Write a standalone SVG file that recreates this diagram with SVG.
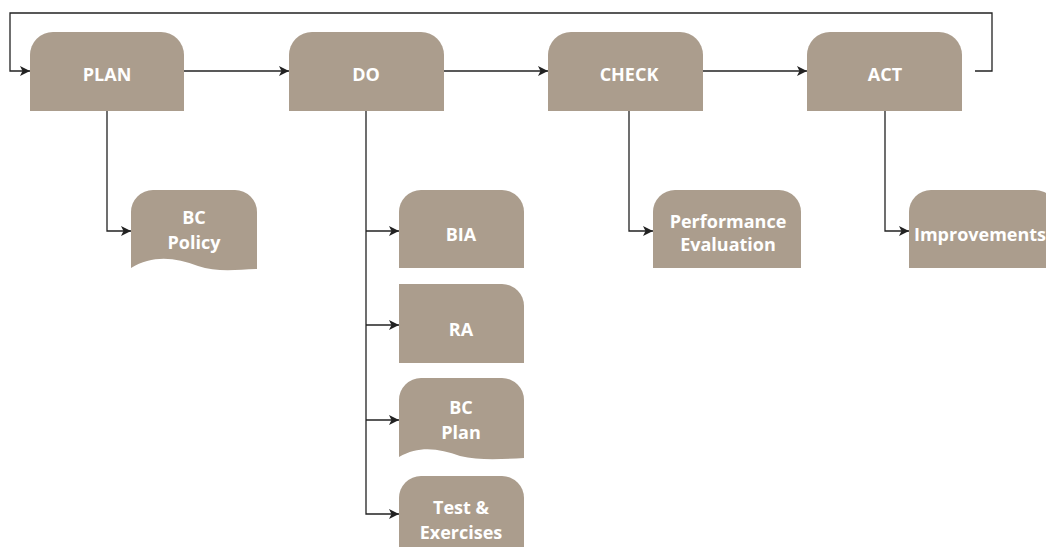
<svg xmlns="http://www.w3.org/2000/svg" width="1046" height="547" viewBox="0 0 1046 547">
  <defs>
    <marker id="arr" viewBox="0 0 10 10" refX="10" refY="5" markerWidth="10" markerHeight="10" markerUnits="userSpaceOnUse" orient="auto">
      <path d="M0,0 L10,5 L0,10 L2.5,5 Z" fill="#222"/>
    </marker>
    <style>
      .box { fill: #ab9d8d; }
      .lbl { fill: #ffffff; font-family: "Open Sans", "Liberation Sans", sans-serif; font-weight: 700; font-size: 18px; text-anchor: middle; }
      .con { fill: none; stroke: #222; stroke-width: 1.3; }
    </style>
  </defs>
  <rect width="1046" height="547" fill="#ffffff"/>

  <g id="connectors">
    <path class="con" d="M975,71 H992 V13 H10 V71 H30" marker-end="url(#arr)"/>
    <path class="con" d="M184,71 H289" marker-end="url(#arr)"/>
    <path class="con" d="M444,71 H548" marker-end="url(#arr)"/>
    <path class="con" d="M703,71 H807" marker-end="url(#arr)"/>
    <path class="con" d="M107,111 V231 H131" marker-end="url(#arr)"/>
    <path class="con" d="M366,111 V514 H399" marker-end="url(#arr)"/>
    <path class="con" d="M366,231 H399" marker-end="url(#arr)"/>
    <path class="con" d="M366,325 H399" marker-end="url(#arr)"/>
    <path class="con" d="M366,420 H399" marker-end="url(#arr)"/>
    <path class="con" d="M629,111 V231 H653" marker-end="url(#arr)"/>
    <path class="con" d="M885,111 V231 H909" marker-end="url(#arr)"/>
  </g>

  <g id="plan">
    <path class="box" d="M30,111 V55 A23,23 0 0 1 53,32 H161 A23,23 0 0 1 184,55 V111 Z"/>
    <text class="lbl" x="107" y="81">PLAN</text>
  </g>
  <g id="do">
    <path class="box" d="M289,111 V55 A23,23 0 0 1 312,32 H421 A23,23 0 0 1 444,55 V111 Z"/>
    <text class="lbl" x="366" y="81">DO</text>
  </g>
  <g id="check">
    <path class="box" d="M548,111 V55 A23,23 0 0 1 571,32 H680 A23,23 0 0 1 703,55 V111 Z"/>
    <text class="lbl" x="629" y="81">CHECK</text>
  </g>
  <g id="act">
    <path class="box" d="M807,111 V55 A23,23 0 0 1 830,32 H939 A23,23 0 0 1 962,55 V111 Z"/>
    <text class="lbl" x="885" y="81">ACT</text>
  </g>

  <g id="bc-policy">
    <path class="box" d="M131,268 V212 A22,22 0 0 1 153,190 H235 A22,22 0 0 1 257,212 V269 C235,270 215,272 198,266 C175,257 152,255 131,268 Z"/>
    <text class="lbl" x="194" y="224">BC</text>
    <text class="lbl" x="194" y="249">Policy</text>
  </g>
  <g id="bia">
    <path class="box" d="M399,268 V212 A22,22 0 0 1 421,190 H502 A22,22 0 0 1 524,212 V268 Z"/>
    <text class="lbl" x="461" y="241">BIA</text>
  </g>
  <g id="ra">
    <path class="box" d="M399,363 V284 H502 A22,22 0 0 1 524,306 V363 Z"/>
    <text class="lbl" x="461" y="336">RA</text>
  </g>
  <g id="bc-plan">
    <path class="box" d="M399,457 V400 A22,22 0 0 1 421,378 H502 A22,22 0 0 1 524,400 V458 C505,459 480,461 460,456 C440,449 420,445 399,457 Z"/>
    <text class="lbl" x="461" y="414">BC</text>
    <text class="lbl" x="461" y="439">Plan</text>
  </g>
  <g id="test-exercises">
    <path class="box" d="M399,560 V498 A22,22 0 0 1 421,476 H502 A22,22 0 0 1 524,498 V560 Z"/>
    <text class="lbl" x="461" y="514">Test &amp;</text>
    <text class="lbl" x="461" y="539">Exercises</text>
  </g>
  <g id="performance-evaluation">
    <path class="box" d="M653,268 V212 A22,22 0 0 1 675,190 H779 A22,22 0 0 1 801,212 V268 Z"/>
    <text class="lbl" x="728" y="228">Performance</text>
    <text class="lbl" x="728" y="251">Evaluation</text>
  </g>
  <g id="improvements">
    <path class="box" d="M909,268 V212 A22,22 0 0 1 931,190 H1035 A22,22 0 0 1 1057,212 V268 Z"/>
    <text class="lbl" x="980" y="241">Improvements</text>
  </g>
</svg>
